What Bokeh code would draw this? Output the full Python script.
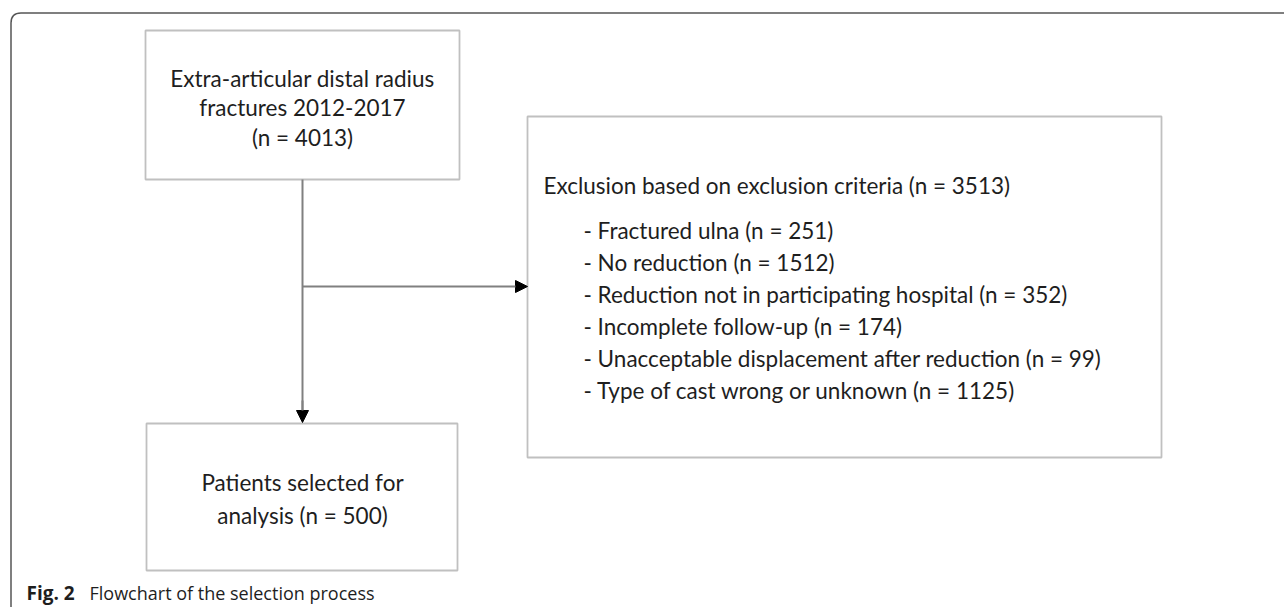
from bokeh.plotting import figure
from bokeh.models import Range1d, Arrow, NormalHead, ColumnDataSource
from bokeh.core.properties import value
from bokeh.embed import file_html
from bokeh.resources import INLINE

# ---- data ----
total_fractures = 4013
period = "2012-2017"
excluded_total = 3513
exclusion_reasons = ["Fractured ulna", "No reduction", "Reduction not in participating hospital",
                     "Incomplete follow-up", "Unacceptable displacement after reduction",
                     "Type of cast wrong or unknown"]
exclusion_counts = [251, 1512, 352, 174, 99, 1125]
selected_total = 500
caption_label = "Fig. 2"
caption_text = "Flowchart of the selection process"

W, H = 1284, 607
p = figure(width=W, height=H, output_backend="svg", toolbar_location=None,
           x_range=Range1d(0, W), y_range=Range1d(H, 0),
           min_border=0, outline_line_color=None, background_fill_color="white")
p.axis.visible = False
p.grid.visible = False

FONT = value("Lato")
FS = "22.5px"
BOX_COL = "#c0c0c0"
LINE_COL = "#808080"
TXT = "#1e1e1e"

# outer frame (top + left with rounded corner)
fx, fy, r = 10.5, 12.5, 10
p.segment(x0=[fx + r], y0=[fy], x1=[1300], y1=[fy], line_color="#555555", line_width=1.5)
p.segment(x0=[fx], y0=[fy + r], x1=[fx], y1=[620], line_color="#555555", line_width=1.5)
p.quadratic(x0=[fx], y0=[fy + r], x1=[fx + r], y1=[fy], cx=[fx], cy=[fy],
            line_color="#555555", line_width=1.5)

# boxes
boxes = dict(left=[145, 146, 527], right=[459, 457, 1161], top=[30, 423, 116], bottom=[179, 570, 457])
p.quad(source=ColumnDataSource(boxes), left="left", right="right", top="top", bottom="bottom",
       fill_color="white", line_color=BOX_COL, line_width=1.8)

# connectors
cx = 302
p.segment(x0=[cx], y0=[179], x1=[cx], y1=[412], line_color=LINE_COL, line_width=2)
p.add_layout(Arrow(end=NormalHead(size=12, fill_color="black", line_color="black"),
                   x_start=cx, y_start=400, x_end=cx, y_end=422, line_color=LINE_COL, line_width=2))
p.add_layout(Arrow(end=NormalHead(size=12, fill_color="black", line_color="black"),
                   x_start=cx, y_start=286, x_end=527, y_end=286, line_color=LINE_COL, line_width=2))

# top box text
top_lines = ["Extra-articular distal radius", f"fractures {period}", f"(n = {total_fractures})"]
p.text(x=[cx] * 3, y=[78, 107, 137], text=top_lines, text_align="center", text_baseline="middle",
       text_font=FONT, text_font_size=FS, text_color=TXT)

# bottom box text
bot_lines = ["Patients selected for", f"analysis (n = {selected_total})"]
p.text(x=[cx] * 2, y=[482, 515], text=bot_lines, text_align="center", text_baseline="middle",
       text_font=FONT, text_font_size=FS, text_color=TXT)

# exclusion box text
p.text(x=[543], y=[185], text=[f"Exclusion based on exclusion criteria (n = {excluded_total})"],
       text_align="left", text_baseline="middle", text_font=FONT, text_font_size=FS, text_color=TXT)
items = [f"- {r_} (n = {c})" for r_, c in zip(exclusion_reasons, exclusion_counts)]
p.text(x=[583] * len(items), y=[230, 262, 294, 326, 358, 390], text=items,
       text_align="left", text_baseline="middle", text_font=FONT, text_font_size=FS, text_color=TXT)

# caption
p.text(x=[26], y=[592], text=[caption_label], text_align="left", text_baseline="middle",
       text_font=value("Open Sans"), text_font_style="bold", text_font_size="19px", text_color=TXT)
p.text(x=[89], y=[592], text=[caption_text], text_align="left", text_baseline="middle",
       text_font=value("Open Sans"), text_font_size="18px", text_color=TXT)

open("out.html", "w").write(file_html(p, INLINE))
